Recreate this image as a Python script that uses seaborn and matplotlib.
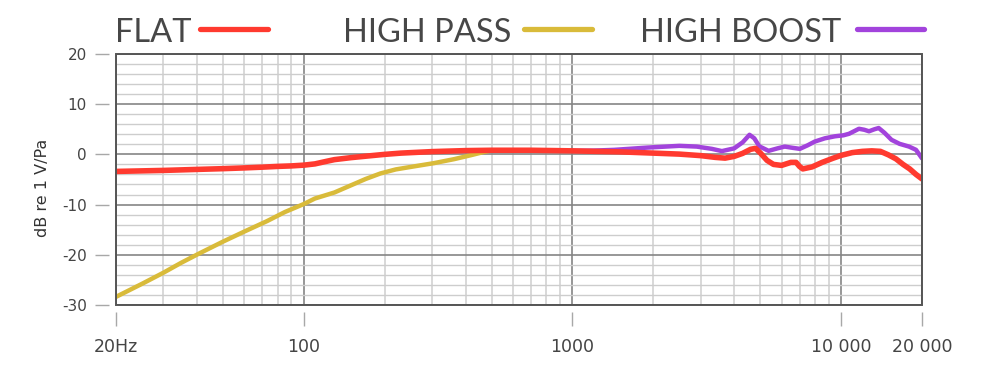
import matplotlib
matplotlib.use("Agg")
import matplotlib.pyplot as plt
import pandas as pd
import seaborn as sns
from matplotlib.lines import Line2D
from matplotlib.patches import Rectangle
from matplotlib.ticker import FixedLocator, MultipleLocator, NullFormatter

# frequency response curves (Hz, dB re 1 V/Pa)
flat_hz = [20, 30, 40, 50, 60, 70, 80, 90, 100, 110, 120, 130, 150, 175, 200, 230,
           300, 400, 500, 700, 1000, 1500, 2000, 2500, 3000, 3400, 3700, 4000, 4300,
           4600, 4800, 5000, 5300, 5600, 6000, 6500, 6800, 7000, 7200, 7800, 8500,
           9300, 10000, 11000, 12000, 13000, 14000, 15000, 16000, 17000, 18000,
           19000, 20000]
flat_db = [-3.4, -3.2, -3.0, -2.85, -2.7, -2.55, -2.4, -2.3, -2.15, -1.9, -1.45, -1.05,
           -0.65, -0.3, 0.0, 0.25, 0.55, 0.75, 0.82, 0.82, 0.7, 0.5, 0.25, 0.05, -0.25,
           -0.6, -0.75, -0.4, 0.2, 1.0, 1.2, 0.3, -1.2, -2.0, -2.2, -1.6, -1.6, -2.4,
           -2.9, -2.5, -1.6, -0.8, -0.2, 0.35, 0.6, 0.7, 0.6, -0.1, -0.9, -2.0, -2.9,
           -4.0, -4.9]

pass_hz = [20, 25, 30, 35, 41, 50, 60, 73, 85, 100, 110, 130, 145, 170, 193, 220,
           257, 305, 363, 420, 470, 500, 550]
pass_db = [-28.4, -25.8, -23.6, -21.6, -19.7, -17.4, -15.4, -13.3, -11.5, -9.9, -8.8,
           -7.6, -6.5, -4.9, -3.8, -3.0, -2.4, -1.75, -0.95, -0.15, 0.5, 0.78, 0.82]

boost_hz = [1000, 1200, 1430, 1900, 2500, 2900, 3300, 3600, 4000, 4300, 4560, 4750,
            4960, 5370, 5800, 6170, 6600, 7020, 7500, 7980, 8700, 9480, 10200, 10700,
            11650, 12200, 12700, 13300, 13800, 14500, 15400, 16500, 17900, 19000, 20000]
boost_db = [0.7, 0.75, 0.9, 1.35, 1.7, 1.55, 1.1, 0.65, 1.2, 2.4, 3.9, 3.2, 1.6, 0.7,
            1.2, 1.55, 1.3, 1.1, 1.8, 2.55, 3.2, 3.6, 3.8, 4.1, 5.1, 4.9, 4.6, 5.0,
            5.25, 4.3, 2.9, 2.1, 1.55, 0.9, -0.8]

series = ["FLAT", "HIGH PASS", "HIGH BOOST"]
colors = {"FLAT": "#ff3a2f", "HIGH PASS": "#d9bb3a", "HIGH BOOST": "#a243dc"}

x_ticks = [20, 100, 1000, 10000, 20000]
x_labels = ["20Hz", "100", "1000", "10 000", "20 000"]
y_ticks = [-30, -20, -10, 0, 10, 20]

frames = []
for name, hz, db in [("FLAT", flat_hz, flat_db), ("HIGH PASS", pass_hz, pass_db),
                     ("HIGH BOOST", boost_hz, boost_db)]:
    frames.append(pd.DataFrame({"hz": hz, "db": db, "curve": name}))
df = pd.concat(frames, ignore_index=True)

sns.set_theme(style="white")
plt.rcParams["font.family"] = ["DejaVu Sans"]
plt.rcParams["axes.unicode_minus"] = False

fig = plt.figure(figsize=(10, 3.7), dpi=100)
ax = fig.add_axes([0.116, 0.176, 0.806, 0.678])

widths = {"HIGH PASS": 3.2, "HIGH BOOST": 3.2, "FLAT": 4.0}
for name in ["HIGH PASS", "HIGH BOOST", "FLAT"]:
    sns.lineplot(data=df[df.curve == name], x="hz", y="db", color=colors[name],
                 linewidth=widths[name], estimator=None, sort=False, ax=ax,
                 solid_capstyle="round", solid_joinstyle="round", zorder=3)

ax.set_xscale("log")
ax.set_xlim(20, 20000)
ax.set_ylim(-30, 20)

ax.xaxis.set_major_locator(FixedLocator(x_ticks))
ax.set_xticklabels(x_labels)
minor_x = [m * d for d in (10, 100, 1000) for m in range(2, 10) if m * d > 20]
ax.xaxis.set_minor_locator(FixedLocator(minor_x))
ax.xaxis.set_minor_formatter(NullFormatter())
ax.yaxis.set_major_locator(FixedLocator(y_ticks))
ax.yaxis.set_minor_locator(MultipleLocator(2))

ax.set_axisbelow(True)
ax.xaxis.grid(True, which="major", color="#7a7a7a", linewidth=1.1)
ax.xaxis.grid(True, which="minor", color="#d6d6d6", linewidth=1.3)
ax.yaxis.grid(True, which="major", color="#858585", linewidth=1.2)
ax.yaxis.grid(True, which="minor", color="#cdcdcd", linewidth=1.0)

for side in ["left", "bottom"]:
    ax.spines[side].set_position(("outward", 5))
    ax.spines[side].set_visible(False)
for side in ["top", "right"]:
    ax.spines[side].set_visible(False)
ax.add_patch(Rectangle((0, 0), 1, 1, transform=ax.transAxes, fill=False,
                       edgecolor="#555555", linewidth=1.4, zorder=4, clip_on=False))

ax.tick_params(which="major", left=True, bottom=True, direction="out", length=10,
               width=1.0, color="#a8a8a8")
ax.tick_params(which="minor", left=False, bottom=False, length=0)
ax.tick_params(axis="y", labelsize=11, labelcolor="#444444", pad=6)
ax.tick_params(axis="x", labelsize=12.5, labelcolor="#444444", pad=9)

ax.set_xlabel("")
ax.set_ylabel("")
fig.text(0.043, 0.492, "dB re 1 V/Pa", rotation=90, ha="center", va="center",
         fontsize=11.5, color="#333333")

# legend row above the plot
legend_pos = {"FLAT": (0.115, 0.200, 0.268),
              "HIGH PASS": (0.343, 0.524, 0.592),
              "HIGH BOOST": (0.640, 0.857, 0.924)}
for name in series:
    tx, x0, x1 = legend_pos[name]
    fig.text(tx, 0.886, name, ha="left", va="baseline", fontsize=23.5,
             family=["Lato", "DejaVu Sans"], fontweight="normal", color="#474747")
    fig.add_artist(Line2D([x0, x1], [0.922, 0.922], transform=fig.transFigure,
                          color=colors[name], linewidth=3.8))

fig.savefig("out.png", dpi=100, facecolor="white")
plt.close(fig)
